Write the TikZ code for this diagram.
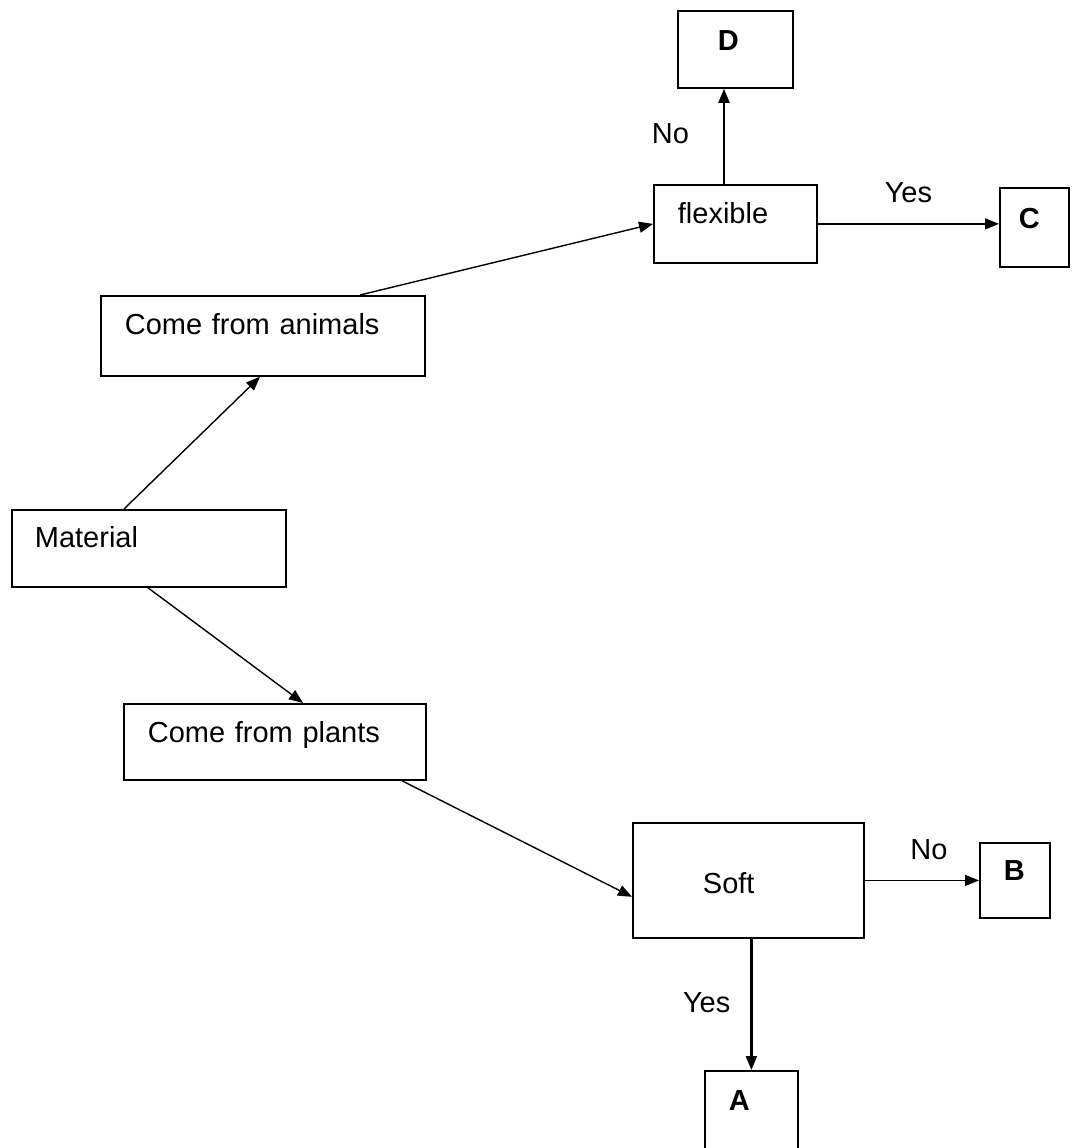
\documentclass[tikz,border=0pt]{standalone}
\usepackage{fontspec}
\setmainfont{Liberation Sans}
\usetikzlibrary{arrows.meta}

\begin{document}
\begin{tikzpicture}[
  x=1pt, y=-1pt,
  box/.style={
    draw,
    line width=1.8pt,
    anchor=north west,
    inner sep=0pt,
    align=left,
    font=\fontsize{29}{34}\selectfont
  },
  letter/.style={box, font=\fontsize{29}{34}\selectfont\bfseries},
  tag/.style={font=\fontsize{29}{34}\selectfont, inner sep=0pt},
  flow/.style={-{Triangle[length=14pt,width=11pt]}, line width=1.4pt}
]
  \useasboundingbox (0,0) rectangle (1072,1148);

  % questions
  \node[box, inner xsep=23pt, text width=228pt, text height=38pt, text depth=39pt] (mat) at (11,509) {Material};
  \node[box, inner xsep=24pt, text width=276pt, text height=39pt, text depth=41pt] (animals) at (100,295) {Come from animals};
  \node[box, inner xsep=24pt, text width=254pt, text height=39pt, text depth=37pt] (plants) at (123,703) {Come from plants};
  \node[box, inner xsep=24pt, text width=115pt, text height=39pt, text depth=39pt] (flex) at (653,184) {flexible};
  \node[box, inner xsep=70pt, text width=91pt, text height=71pt, text depth=44pt] (soft) at (632,822) {Soft};

  % answers
  \node[letter, inner xsep=40pt, text width=35pt, text height=40pt, text depth=37pt] (D) at (677,10) {D};
  \node[letter, inner xsep=19pt, text width=31pt, text height=41pt, text depth=38pt] (C) at (999,187) {C};
  \node[letter, inner xsep=24pt, text width=22pt, text height=38pt, text depth=37pt] (B) at (979,842) {B};
  \node[letter, inner xsep=24pt, text width=45pt, text height=40pt, text depth=40pt] (A) at (704,1070) {A};

  \path[flow]
    ([xshift=113pt]mat.north west) edge ([xshift=160pt]animals.south west)
    ([xshift=260pt]animals.north west) edge (flex.west)
    ([xshift=71pt]flex.north west) edge[line width=2pt] node[tag, midway, anchor=base east, xshift=-34pt, yshift=-7pt] {No} ([xshift=47pt]D.south west)
    (flex.east) edge node[tag, midway, anchor=base, yshift=21pt] {Yes} (flex.east -| C.west)
    ([xshift=137pt]mat.south west) edge ([xshift=180pt]plants.north west)
    ([xshift=279pt]plants.south west) edge ([yshift=42pt]soft.south west)
    (soft.east) edge node[tag, midway, anchor=base, xshift=7pt, yshift=21pt] {No} (soft.east -| B.west)
    (soft.south -| A.north) edge[line width=2.2pt] node[tag, midway, anchor=base east, xshift=-20pt, yshift=-8pt] {Yes} (A.north);
\end{tikzpicture}
\end{document}
